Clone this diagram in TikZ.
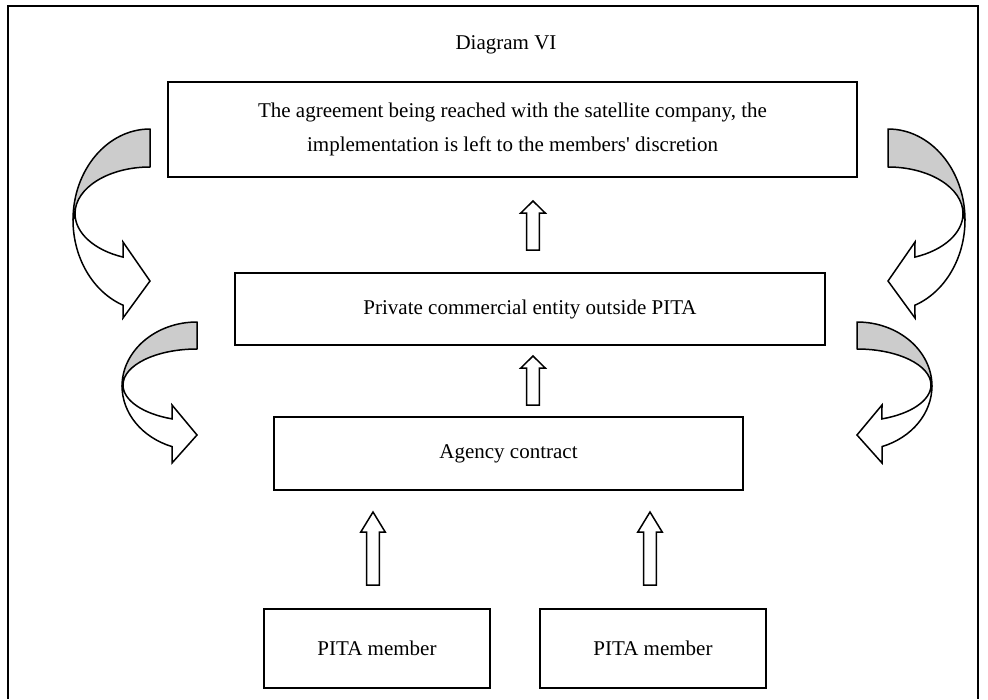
\documentclass[tikz,border=0pt]{standalone}
\usepackage{fontspec}
\setmainfont{Liberation Serif}
\begin{document}
\begin{tikzpicture}[x=1pt,y=1pt,
  box/.style={draw, line width=1.8pt, inner sep=0pt, font=\fontsize{21}{34}\selectfont, align=center},
  band/.style={draw, line width=1.5pt, fill=black!20, line join=round},
  front/.style={draw, line width=1.5pt, fill=white, line join=miter},
  blk/.style={draw, line width=1.5pt, fill=white, line join=miter}]
\useasboundingbox (0,0) rectangle (988,-699);
% frame
\draw[line width=2pt] (8,-699) -- (8,-6) -- (978,-6) -- (978,-699);
\node[font=\fontsize{21}{25}\selectfont] (title) at (506,-45) {Diagram VI};
% boxes
\node[box, minimum width=689, minimum height=95] (top) at (512.5,-129.5)
  {The agreement being reached with the satellite company, the\\implementation is left to the members\textquotesingle\ discretion};
\node[box, minimum width=590, minimum height=72] (mid) at (530,-309) {Private commercial entity outside PITA};
\node[box, minimum width=469, minimum height=73] (agency) at (508.5,-453.5) {Agency contract};
\node[box, minimum width=226, minimum height=79] (m1) at (377,-648.5) {PITA member};
\node[box, minimum width=226, minimum height=79] (m2) at (653,-648.5) {PITA member};
% block up arrows
\newcommand\blockup[4]{%
  \draw[blk] (#1-6.3,#3) -- (#1-6.3,#2-#4) -- (#1-12.2,#2-#4) -- (#1,#2) -- (#1+12.2,#2-#4) -- (#1+6.3,#2-#4) -- (#1+6.3,#3) -- cycle;}
\blockup{533}{-201}{-250}{12}
\blockup{533}{-356}{-405}{12}
\blockup{373}{-512}{-585}{20}
\blockup{650}{-512}{-585}{20}
% upper curved arrows
\newcommand\upcurve{%
  \draw[band] (150,-129) arc[start angle=90,end angle=180,x radius=77,y radius=91]
     -- (75,-213.6) arc[start angle=180,end angle=90,x radius=75,y radius=46.6] -- cycle;
  \draw[front] (75,-213.6) arc[start angle=180,end angle=249,x radius=75,y radius=46.6]
     -- (123,-242) -- (150,-281) -- (123,-318) -- (123.04,-305.2)
     arc[start angle=249.5,end angle=180,x radius=77,y radius=91] -- cycle;}
\upcurve
\begin{scope}[xshift=1038pt, xscale=-1]\upcurve\end{scope}
% lower curved arrows
\newcommand\lowcurve{%
  \draw[band] (197,-322) arc[start angle=90,end angle=180,x radius=75,y radius=64.3]
     -- (123,-385) arc[start angle=180,end angle=90,x radius=74,y radius=36] -- cycle;
  \draw[front] (123,-385) arc[start angle=180,end angle=250.3,x radius=74,y radius=36]
     -- (172,-405) -- (197,-435) -- (172,-463) -- (172,-446.6)
     arc[start angle=250.5,end angle=180,x radius=75,y radius=64.3] -- cycle;}
\lowcurve
\begin{scope}[xshift=1054pt, xscale=-1]\lowcurve\end{scope}
\end{tikzpicture}
\end{document}
